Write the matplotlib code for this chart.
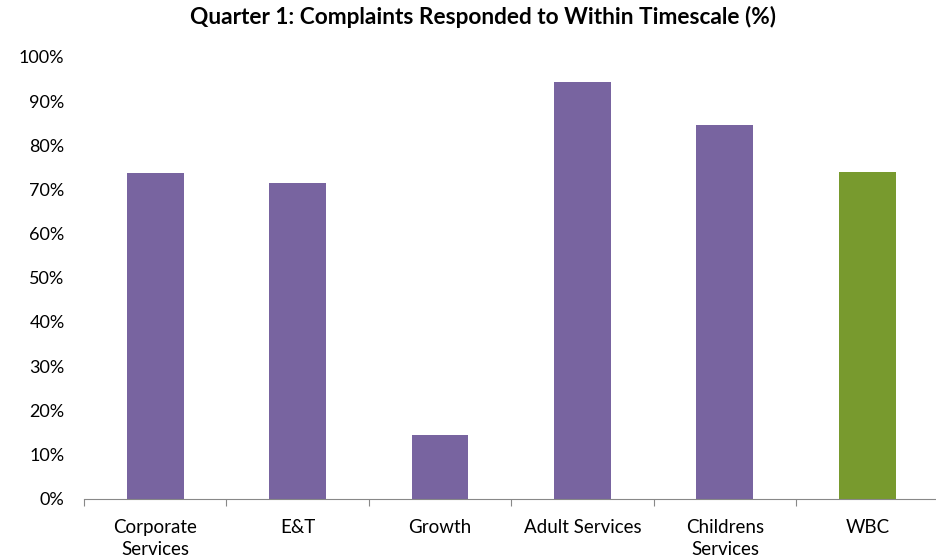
import numpy as np
import matplotlib.pyplot as plt
from matplotlib.ticker import FuncFormatter

categories = ["Corporate\nServices", "E&T", "Growth", "Adult Services", "Childrens\nServices", "WBC"]
values = [73.7, 71.4, 14.4, 94.3, 84.6, 74.0]
colors = ["#7864A0", "#7864A0", "#7864A0", "#7864A0", "#7864A0", "#789A2E"]

plt.rcParams['font.family'] = ['Lato', 'DejaVu Sans']

fig = plt.figure(figsize=(9.37, 5.58), dpi=100)
ax = fig.add_axes([0.0896, 0.1066, 0.912, 0.7914])

x = np.arange(len(categories))
ax.bar(x, values, width=0.4, color=colors)

ax.set_xlim(-0.5, len(categories) - 0.5)
ax.set_ylim(0, 100)
ax.set_yticks(np.arange(0, 101, 10))
ax.yaxis.set_major_formatter(FuncFormatter(lambda v, p: f"{int(v)}%"))
ax.tick_params(axis='y', length=0, labelsize=13, pad=14)

ax.set_xticks(x)
ax.set_xticklabels(categories, fontsize=13.5, linespacing=1.3)
ax.set_xticks(np.arange(-0.5, len(categories), 1), minor=True)
ax.tick_params(axis='x', which='major', length=0, pad=15)
ax.tick_params(axis='x', which='minor', length=5, color='#888888', width=0.8)

for s in ['top', 'right', 'left']:
    ax.spines[s].set_visible(False)
ax.spines['bottom'].set_color('#888888')
ax.spines['bottom'].set_linewidth(0.8)

fig.suptitle("Quarter 1: Complaints Responded to Within Timescale (%)",
             fontsize=16.3, fontweight='bold', y=0.99, x=0.515)

fig.savefig("out.png", dpi=100)
